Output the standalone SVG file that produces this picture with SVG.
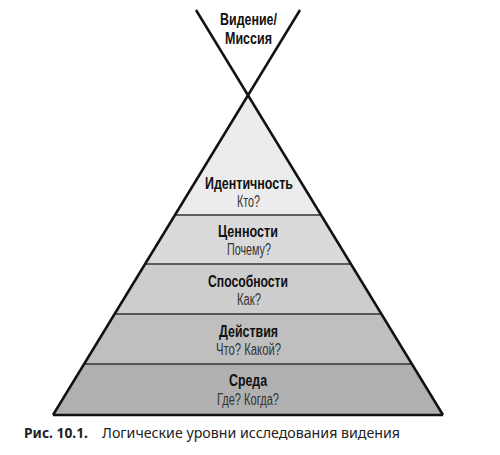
<svg xmlns="http://www.w3.org/2000/svg" width="500" height="455" viewBox="0 0 500 455">
<style>
.h{font-family:"Liberation Sans",sans-serif;font-weight:bold;font-size:17px;fill:#111;text-anchor:middle}
.s{font-family:"Liberation Sans",sans-serif;font-size:16px;fill:#333;text-anchor:middle}
.ln{stroke:#111;stroke-width:2.5;fill:none}
.dv{stroke:#333;stroke-width:1.5}
.cap{font-family:"Noto Sans","Open Sans",sans-serif;font-size:14px;fill:#222}
</style>
<rect width="500" height="455" fill="#fff"/>
<g id="band-identity"><polygon points="248,97 320.9,215 175.1,215" fill="#ececec"/></g>
<g id="band-values"><polygon points="175.1,215 320.9,215 350.8,264 145.2,264" fill="#dadada"/></g>
<g id="band-abilities"><polygon points="145.2,264 350.8,264 381.3,314 114.7,314" fill="#cdcdcd"/></g>
<g id="band-actions"><polygon points="114.7,314 381.3,314 411.8,364 84.2,364" fill="#bfbfbf"/></g>
<g id="band-environment"><polygon points="84.2,364 411.8,364 443,415 53,415" fill="#b0b0b0"/></g>
<g id="connectors">
<line class="dv" x1="175.1" y1="215" x2="320.9" y2="215"/>
<line class="dv" x1="145.2" y1="264" x2="350.8" y2="264"/>
<line class="dv" x1="114.7" y1="314" x2="381.3" y2="314"/>
<line class="dv" x1="84.2" y1="364" x2="411.8" y2="364"/>
<line class="ln" x1="196" y1="10" x2="443" y2="415"/>
<line class="ln" x1="300" y1="10" x2="53" y2="415"/>
<line class="ln" x1="53" y1="415" x2="443" y2="415"/>
</g>
<g id="vision"><text class="h" x="248.5" y="25" textLength="57" lengthAdjust="spacingAndGlyphs">Видение/</text><text class="h" x="248.5" y="44" textLength="47" lengthAdjust="spacingAndGlyphs">Миссия</text></g>
<g id="t-identity"><text class="h" x="249" y="189" textLength="88" lengthAdjust="spacingAndGlyphs">Идентичность</text><text class="s" x="248.5" y="207" textLength="23" lengthAdjust="spacingAndGlyphs">Кто?</text></g>
<g id="t-values"><text class="h" x="248" y="237" textLength="60" lengthAdjust="spacingAndGlyphs">Ценности</text><text class="s" x="249" y="255" textLength="44" lengthAdjust="spacingAndGlyphs">Почему?</text></g>
<g id="t-abilities"><text class="h" x="248" y="287" textLength="80" lengthAdjust="spacingAndGlyphs">Способности</text><text class="s" x="249" y="305" textLength="24" lengthAdjust="spacingAndGlyphs">Как?</text></g>
<g id="t-actions"><text class="h" x="248.5" y="337" textLength="59" lengthAdjust="spacingAndGlyphs">Действия</text><text class="s" x="248.5" y="355" textLength="65" lengthAdjust="spacingAndGlyphs">Что? Какой?</text></g>
<g id="t-env"><text class="h" x="248" y="386" textLength="38" lengthAdjust="spacingAndGlyphs">Среда</text><text class="s" x="248" y="405" textLength="62" lengthAdjust="spacingAndGlyphs">Где? Когда?</text></g>
<text class="cap" x="24" y="438"><tspan font-weight="bold" textLength="64" lengthAdjust="spacingAndGlyphs">Рис. 10.1.</tspan><tspan x="102" textLength="298" lengthAdjust="spacingAndGlyphs">Логические уровни исследования видения</tspan></text>
</svg>
